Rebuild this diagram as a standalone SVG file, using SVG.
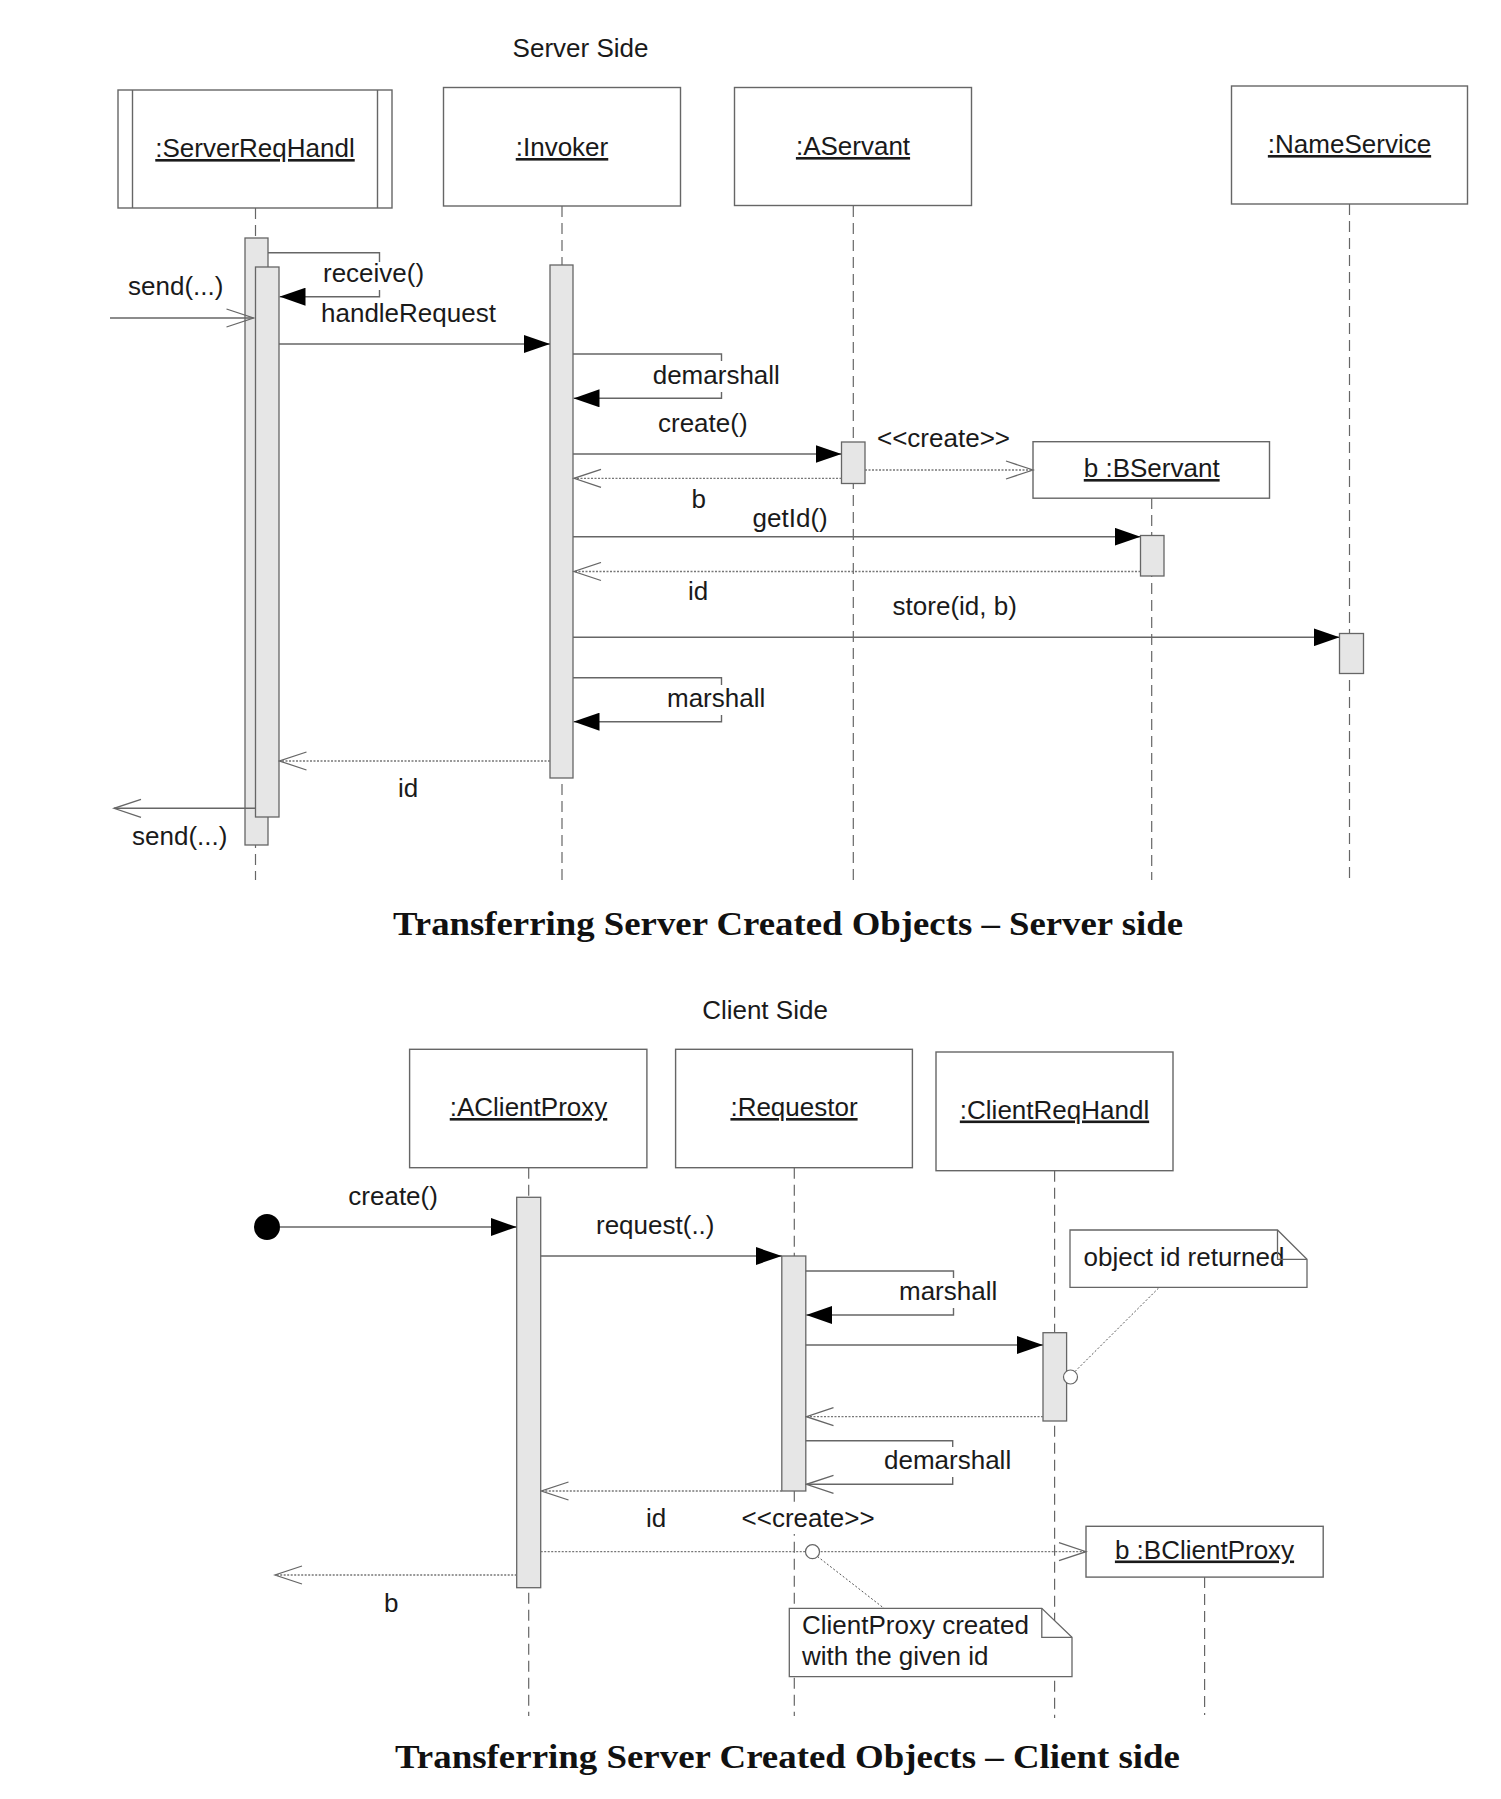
<svg xmlns="http://www.w3.org/2000/svg" width="1501" height="1799" viewBox="0 0 1501 1799">
<style>
text{font-family:"Liberation Sans",Arial,sans-serif;font-size:26px;fill:#1a1a1a}
.u{text-decoration:underline}
.mid{text-anchor:middle}
.title{font-family:"Liberation Serif","Times New Roman",serif;font-weight:bold;font-size:34px;fill:#111;text-anchor:middle}
.box{fill:#fff;stroke:#666;stroke-width:1.4}
.act{fill:#e6e6e6;stroke:#666;stroke-width:1.3}
.life{stroke:#666;stroke-width:1.2;stroke-dasharray:11 6;fill:none}
.msg{stroke:#666;stroke-width:1.4;fill:none}
.ret{stroke:#777;stroke-width:1.3;stroke-dasharray:2 1.5;fill:none}
.anchor{stroke:#555;stroke-width:1;stroke-dasharray:2 2;fill:none}
.note{fill:#fff;stroke:#666;stroke-width:1.3}
.fold{fill:none;stroke:#666;stroke-width:1.3}
.pin{fill:#fff;stroke:#666;stroke-width:1.2}
.bg{fill:#fff;stroke:none}
</style>
<defs>
<marker id="filled" viewBox="0 0 26 18" refX="26" refY="9" markerWidth="26" markerHeight="18" markerUnits="userSpaceOnUse" orient="auto"><path d="M0,0 L26,9 L0,18 Z" fill="#000"/></marker>
<marker id="open" viewBox="-1 -1 30 20" refX="27" refY="9" markerWidth="30" markerHeight="20" markerUnits="userSpaceOnUse" orient="auto"><path d="M0,0 L27,9 L0,18" fill="none" stroke="#666" stroke-width="1.3"/></marker>
</defs>
<rect width="1501" height="1799" fill="#fff"/>

<!-- ===== Server side ===== -->
<text x="580.5" y="57" class="mid">Server Side</text>

<g id="lifelines-server">
<line class="life" x1="255.5" y1="208" x2="255.5" y2="880"/>
<line class="life" x1="562" y1="206" x2="562" y2="880"/>
<line class="life" x1="853.3" y1="206" x2="853.3" y2="880"/>
<line class="life" x1="1151.7" y1="498" x2="1151.7" y2="880"/>
<line class="life" x1="1349.5" y1="204" x2="1349.5" y2="880"/>
</g>

<g id="node-serverreqhandl">
<rect class="box" x="118" y="90" width="274" height="118"/>
<line class="box" x1="132.5" y1="90" x2="132.5" y2="208"/>
<line class="box" x1="377.5" y1="90" x2="377.5" y2="208"/>
<text x="255" y="157" class="mid u">:ServerReqHandl</text>
<rect class="act" x="245" y="238" width="23" height="607"/>
<rect class="act" x="255.5" y="267" width="23.5" height="550"/>
</g>

<g id="node-invoker">
<rect class="box" x="443.5" y="87.5" width="237" height="118.5"/>
<text x="562" y="156" class="mid u">:Invoker</text>
<rect class="act" x="550" y="265" width="23" height="513"/>
</g>

<g id="node-aservant">
<rect class="box" x="734.5" y="87.5" width="237" height="118"/>
<text x="853" y="155" class="mid u">:AServant</text>
<rect class="act" x="841.5" y="442" width="23.5" height="41.5"/>
</g>

<g id="node-nameservice">
<rect class="box" x="1231.5" y="86" width="236" height="118"/>
<text x="1349.5" y="153" class="mid u">:NameService</text>
<rect class="act" x="1339.5" y="633.5" width="24" height="40"/>
</g>

<g id="node-bservant">
<rect class="box" x="1033" y="441.7" width="236.5" height="56.5"/>
<text x="1151.7" y="477" class="mid u">b :BServant</text>
<rect class="act" x="1140.5" y="535.5" width="23.5" height="40.5"/>
</g>

<g id="connectors-server">
<line class="msg" x1="110" y1="318" x2="253.5" y2="318" marker-end="url(#open)"/>
<text x="128" y="295">send(...)</text>
<polyline class="msg" points="268,252.7 379.5,252.7 379.5,296.7 279.5,296.7" marker-end="url(#filled)"/>
<rect class="bg" x="321" y="262" width="106" height="28"/>
<text x="323" y="282">receive()</text>
<text x="321" y="322">handleRequest</text>
<line class="msg" x1="279" y1="344" x2="550" y2="344" marker-end="url(#filled)"/>
<polyline class="msg" points="573,354 721.5,354 721.5,398.3 573.5,398.3" marker-end="url(#filled)"/>
<rect class="bg" x="650.5" y="361" width="132" height="31"/>
<text x="652.7" y="383.5">demarshall</text>
<text x="658" y="432">create()</text>
<line class="msg" x1="573" y1="454" x2="841.5" y2="454" marker-end="url(#filled)"/>
<line class="ret" x1="841.5" y1="478.3" x2="574" y2="478.3" marker-end="url(#open)"/>
<text x="691.5" y="508">b</text>
<line class="ret" x1="865" y1="470" x2="1033" y2="470" marker-end="url(#open)"/>
<text x="877" y="447">&lt;&lt;create&gt;&gt;</text>
<line class="msg" x1="573" y1="536.7" x2="1140.5" y2="536.7" marker-end="url(#filled)"/>
<text x="752.6" y="526.5">getId()</text>
<line class="ret" x1="1140.5" y1="571.5" x2="574" y2="571.5" marker-end="url(#open)"/>
<text x="688" y="600">id</text>
<line class="msg" x1="573" y1="637.3" x2="1339.5" y2="637.3" marker-end="url(#filled)"/>
<text x="892.6" y="615">store(id, b)</text>
<polyline class="msg" points="573,677.7 721.5,677.7 721.5,721.7 573.5,721.7" marker-end="url(#filled)"/>
<rect class="bg" x="665" y="685" width="103" height="30"/>
<text x="667" y="707">marshall</text>
<line class="ret" x1="550" y1="761" x2="279.5" y2="761" marker-end="url(#open)"/>
<text x="398" y="797">id</text>
<line class="msg" x1="255.5" y1="808.3" x2="114" y2="808.3" marker-end="url(#open)"/>
<text x="132" y="844.5">send(...)</text>
</g>

<text x="788" y="935" class="title" textLength="790" lengthAdjust="spacingAndGlyphs">Transferring Server Created Objects – Server side</text>

<!-- ===== Client side ===== -->
<text x="765" y="1019" class="mid">Client Side</text>

<g id="lifelines-client">
<line class="life" x1="528.7" y1="1167.7" x2="528.7" y2="1716"/>
<line class="life" x1="794.3" y1="1167.7" x2="794.3" y2="1716"/>
<line class="life" x1="1054.6" y1="1170.7" x2="1054.6" y2="1718"/>
<line class="life" x1="1204.6" y1="1577" x2="1204.6" y2="1715"/>
</g>

<g id="node-start">
<circle cx="267" cy="1227" r="13" fill="#000"/>
</g>

<g id="node-aclientproxy">
<rect class="box" x="409.6" y="1049.3" width="237.3" height="118.4"/>
<text x="528.5" y="1116" class="mid u">:AClientProxy</text>
<rect class="act" x="516.7" y="1197.3" width="24" height="390.4"/>
</g>

<g id="node-requestor">
<rect class="box" x="675.6" y="1049.3" width="236.8" height="118.4"/>
<text x="794" y="1116" class="mid u">:Requestor</text>
<rect class="act" x="781.8" y="1256" width="24" height="235"/>
</g>

<g id="node-clientreqhandl">
<rect class="box" x="936" y="1052" width="237" height="118.7"/>
<text x="1054.5" y="1118.5" class="mid u">:ClientReqHandl</text>
<rect class="act" x="1043" y="1332.7" width="23.6" height="88.3"/>
</g>

<g id="node-bclientproxy">
<rect class="box" x="1086" y="1526.3" width="237.2" height="50.8"/>
<text x="1204.5" y="1558.5" class="mid u">b :BClientProxy</text>
</g>

<g id="connectors-client">
<line class="msg" x1="280" y1="1227" x2="516.7" y2="1227" marker-end="url(#filled)"/>
<text x="348.3" y="1205">create()</text>
<line class="msg" x1="540.7" y1="1256" x2="781.8" y2="1256" marker-end="url(#filled)"/>
<text x="596" y="1234">request(..)</text>
<polyline class="msg" points="805.8,1271 953.5,1271 953.5,1315 806.3,1315" marker-end="url(#filled)"/>
<rect class="bg" x="897" y="1278" width="103" height="30"/>
<text x="899" y="1300">marshall</text>
<line class="msg" x1="805.8" y1="1345" x2="1043" y2="1345" marker-end="url(#filled)"/>
<line class="ret" x1="1043" y1="1416.7" x2="806.5" y2="1416.7" marker-end="url(#open)"/>
<polyline class="msg" points="805.8,1440.7 952.7,1440.7 952.7,1484.3 806.5,1484.3" marker-end="url(#open)"/>
<rect class="bg" x="882" y="1447" width="132" height="30"/>
<text x="884" y="1469">demarshall</text>
<line class="ret" x1="781.8" y1="1491" x2="541.5" y2="1491" marker-end="url(#open)"/>
<text x="646" y="1527">id</text>
<rect class="bg" x="740" y="1505" width="135" height="29"/>
<text x="741.6" y="1527">&lt;&lt;create&gt;&gt;</text>
<line class="ret" x1="540.7" y1="1551.7" x2="1086" y2="1551.7" marker-end="url(#open)"/>
<line class="ret" x1="516.7" y1="1575" x2="275" y2="1575" marker-end="url(#open)"/>
<text x="384" y="1612">b</text>
</g>

<g id="note-object-id">
<line class="anchor" x1="1075" y1="1371.5" x2="1159.3" y2="1287.3"/>
<circle class="pin" cx="1070.5" cy="1377" r="7"/>
<path class="note" d="M1070,1230 L1277.5,1230 L1307,1259.3 L1307,1287.3 L1070,1287.3 Z"/>
<text x="1083.5" y="1266">object id returned</text>
<path class="fold" d="M1277.5,1230 L1277.5,1259.3 L1307,1259.3"/>
</g>

<g id="note-clientproxy">
<line class="anchor" x1="817.5" y1="1556.5" x2="884" y2="1608.3"/>
<circle class="pin" cx="812.5" cy="1551.7" r="7"/>
<path class="note" d="M789.3,1608.3 L1041.8,1608.3 L1072,1637.3 L1072,1676.7 L789.3,1676.7 Z"/>
<path class="fold" d="M1041.8,1608.3 L1041.8,1637.3 L1072,1637.3"/>
<text x="802" y="1634">ClientProxy created</text>
<text x="802" y="1665">with the given id</text>
</g>

<text x="787.5" y="1767.7" class="title" textLength="785" lengthAdjust="spacingAndGlyphs">Transferring Server Created Objects – Client side</text>
</svg>
